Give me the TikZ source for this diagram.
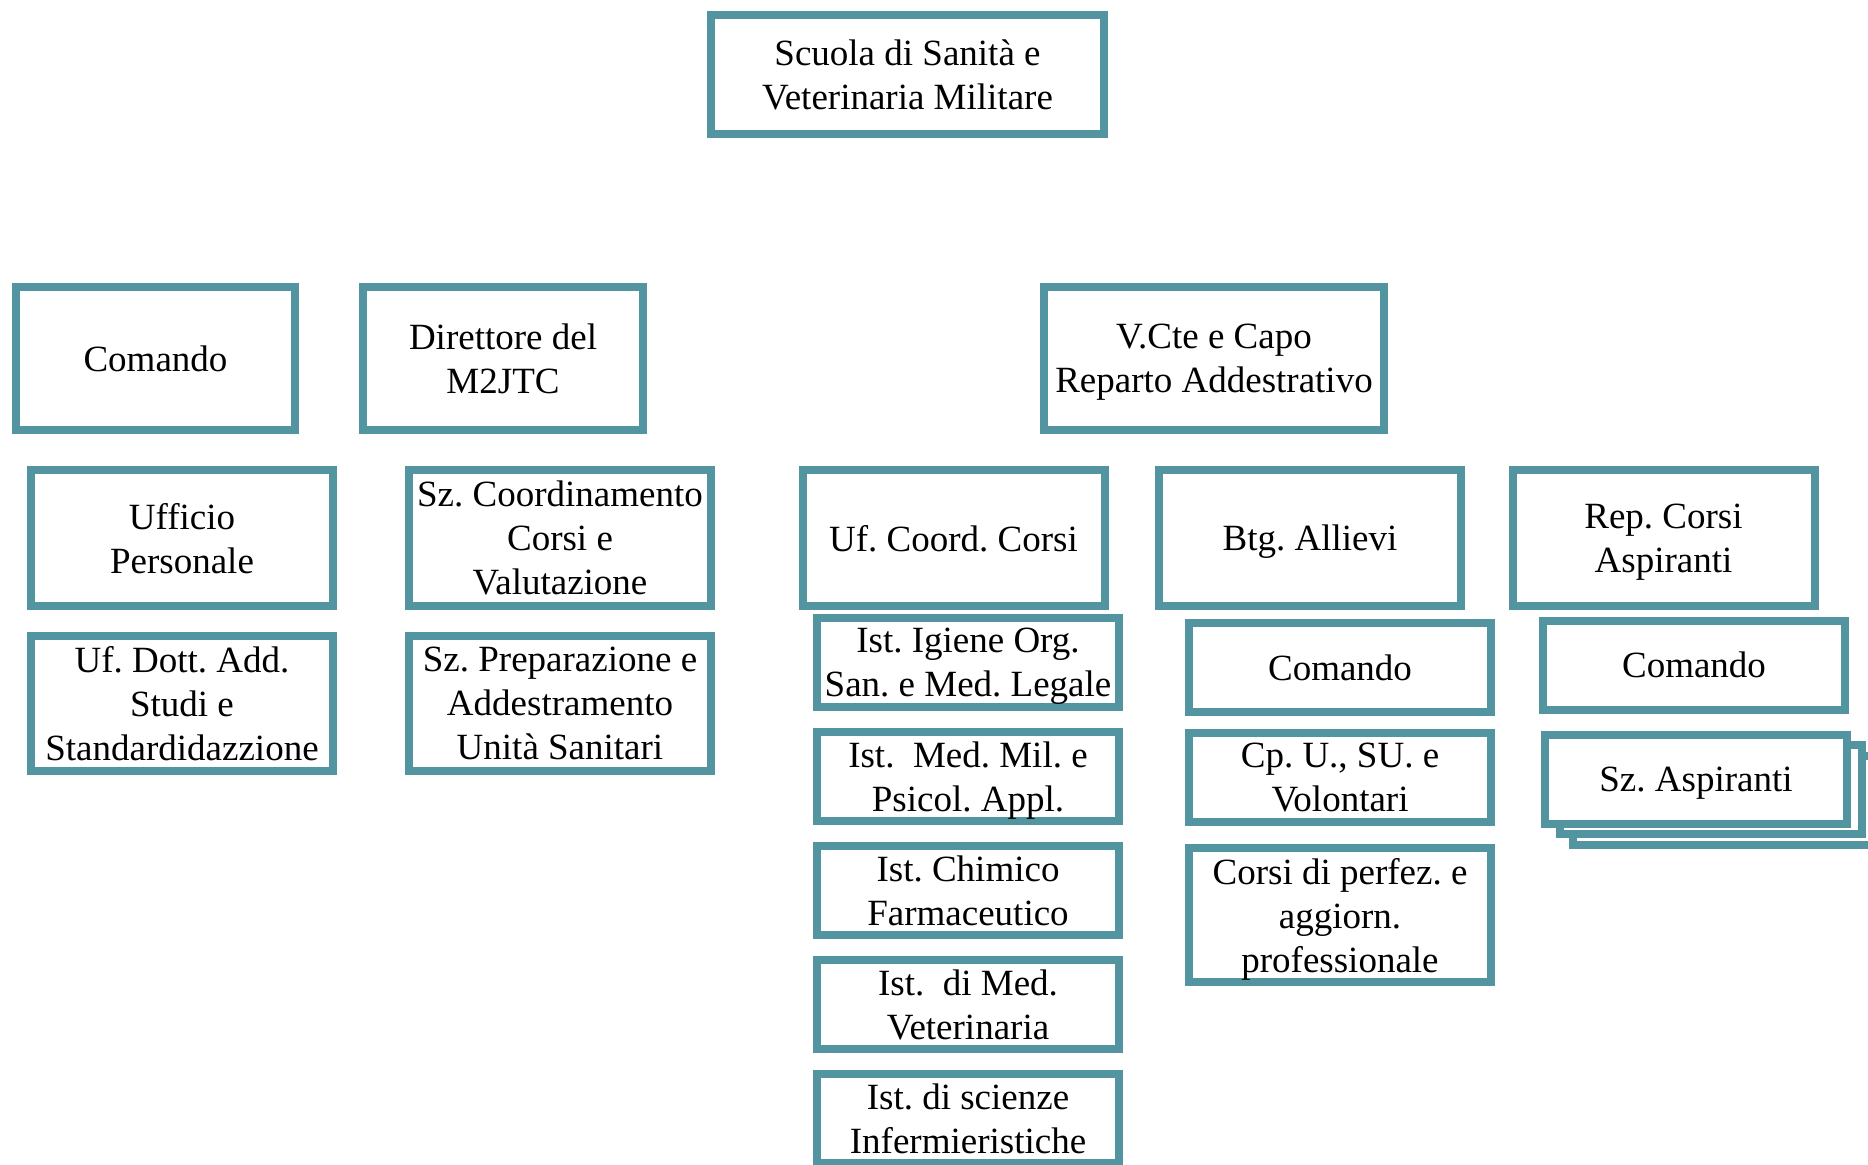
\documentclass[tikz,border=0pt]{standalone}
\usepackage{fontspec}
\setmainfont{Liberation Serif}
\frenchspacing
\definecolor{ssteal}{RGB}{82,149,160}
\begin{document}
\begin{tikzpicture}[x=0.5pt,y=-0.5pt,
  unit/.style={draw=ssteal,line width=4pt,fill=white,align=center,inner sep=0pt,
    font=\fontsize{18.5}{22}\selectfont,minimum width=151pt,text depth=-2pt},
  tall/.style={unit,minimum height=68pt},
  low/.style={unit,minimum height=44.5pt}]
\useasboundingbox (0,0) rectangle (1868,1164);
\clip (0,0) rectangle (1868,1164);

% vertice
\node[unit,minimum width=196.5pt,minimum height=59.5pt] (top) at (907.5,74.5) {Scuola di Sanità e\\Veterinaria Militare};

% secondo livello
\node[unit,minimum width=139.5pt,minimum height=71.5pt] (comando) at (155.5,358.5) {Comando};
\node[unit,minimum width=140pt,minimum height=71.5pt] (direttore) at (503,358.5) {Direttore del\\M2JTC};
\node[unit,minimum width=170pt,minimum height=71.5pt] (vcte) at (1214,358.5) {V.Cte e Capo\\Reparto Addestrativo};

% terzo livello
\node[tall] (ufpers) at (182,538) {Ufficio\\Personale};
\node[tall] (szcoord) at (560,538) {Sz. Coordinamento\\Corsi e\\Valutazione};
\node[tall] (ufcoord) at (953.5,538) {Uf. Coord. Corsi};
\node[tall] (btg) at (1310,538) {Btg. Allievi};
\node[tall] (rep) at (1663.5,538) {Rep. Corsi\\Aspiranti};

\node[tall,minimum height=67.5pt] (ufdott) at (182,703.5) {Uf. Dott. Add.\\Studi e\\Standardidazzione};
\node[tall,minimum height=67.5pt] (szprep) at (560,703) {Sz. Preparazione e\\Addestramento\\Unità Sanitari};

% istituti
\node[low] (ist1) at (968,662.5) {Ist. Igiene Org.\\San. e Med. Legale};
\node[low] (ist2) at (968,776.5) {Ist.\ \ Med. Mil. e\\Psicol. Appl.};
\node[low] (ist3) at (968,890.5) {Ist. Chimico\\Farmaceutico};
\node[low] (ist4) at (968,1004.5) {Ist.\ \ di Med.\\Veterinaria};
\node[low] (ist5) at (968,1118.5) {Ist. di scienze\\Infermieristiche};

% battaglione
\node[low] (btgcom) at (1340,667.5) {Comando};
\node[low] (cpu) at (1340,777.5) {Cp. U., SU. e\\Volontari};
\node[tall,minimum height=67pt] (perfez) at (1340,915) {Corsi di perfez. e\\aggiorn.\\professionale};

% reparto corsi
\node[low] (repcom) at (1694,665) {Comando};
\node[low] (szasp2) at (1724,800.5) {};
\node[low] (szasp1) at (1711,789.5) {};
\node[low] (szasp) at (1696,779.5) {Sz. Aspiranti};
\end{tikzpicture}
\end{document}
